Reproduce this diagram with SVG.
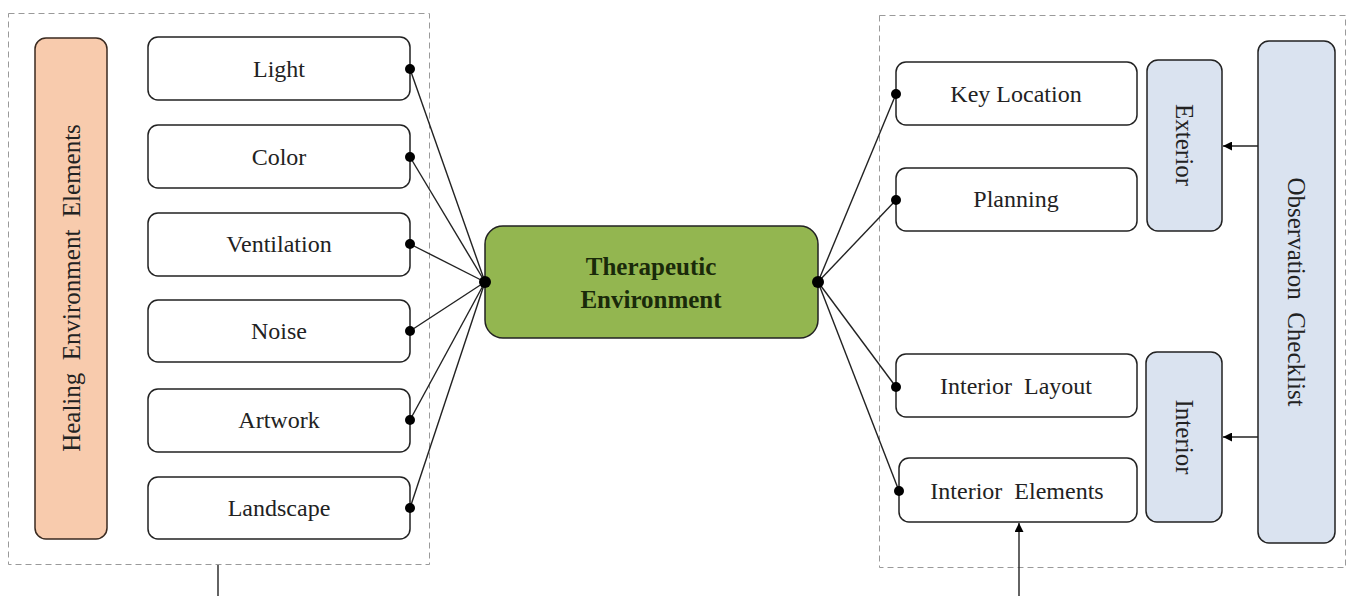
<svg xmlns="http://www.w3.org/2000/svg" width="1348" height="596" viewBox="0 0 1348 596">
<style>
.frame{fill:none;stroke:#9a9a9a;stroke-width:1;stroke-dasharray:6 4}
.box{fill:#fff;stroke:#222;stroke-width:1.5}
.org{fill:#f8cbad;stroke:#3a2a20;stroke-width:1.5}
.blue{fill:#dae3f0;stroke:#222;stroke-width:1.5}
.green{fill:#93b650;stroke:#222;stroke-width:1.5}
.t{font-family:"Liberation Serif","Times New Roman",serif;font-size:24px;fill:#222;text-anchor:middle;dominant-baseline:central}
.tv{font-size:25px}
.tb{font-family:"Liberation Serif","Times New Roman",serif;font-size:25px;font-weight:bold;fill:#1a2a0a;text-anchor:middle}
.ln{stroke:#222;stroke-width:1.4;fill:none}
.dot{fill:#000}
</style>
<defs>
<marker id="ah" viewBox="0 0 10 10" refX="10" refY="5" markerWidth="9" markerHeight="9" markerUnits="userSpaceOnUse" orient="auto">
<path d="M0,0 L10,5 L0,10 z" fill="#000"/>
</marker>
</defs>
<rect class="frame" x="8.5" y="13.5" width="421" height="551"/>
<rect class="frame" x="879.5" y="15.5" width="466" height="552"/>
<g id="healing">
<rect class="org" x="35" y="38" width="72" height="501" rx="11"/>
<text class="t tv" transform="translate(71,288) rotate(-90)" xml:space="preserve">Healing  Environment  Elements</text>
</g>
<g id="light"><rect class="box" x="148" y="37" width="262" height="63" rx="10"/><text class="t" x="279" y="69">Light</text></g>
<g id="color"><rect class="box" x="148" y="125" width="262" height="63" rx="10"/><text class="t" x="279" y="157">Color</text></g>
<g id="ventilation"><rect class="box" x="148" y="213" width="262" height="63" rx="10"/><text class="t" x="279" y="244">Ventilation</text></g>
<g id="noise"><rect class="box" x="148" y="300" width="262" height="62" rx="10"/><text class="t" x="279" y="331">Noise</text></g>
<g id="artwork"><rect class="box" x="148" y="389" width="262" height="63" rx="10"/><text class="t" x="279" y="420">Artwork</text></g>
<g id="landscape"><rect class="box" x="148" y="477" width="262" height="62" rx="10"/><text class="t" x="279" y="508">Landscape</text></g>
<g id="therapeutic">
<rect class="green" x="485" y="226" width="333" height="112" rx="18"/>
<text class="tb" x="651" y="275">Therapeutic</text>
<text class="tb" x="651" y="308">Environment</text>
</g>
<g id="keylocation"><rect class="box" x="896" y="62" width="241" height="63" rx="10"/><text class="t" x="1016" y="94">Key Location</text></g>
<g id="planning"><rect class="box" x="896" y="168" width="241" height="63" rx="10"/><text class="t" x="1016" y="199">Planning</text></g>
<g id="interiorlayout"><rect class="box" x="896" y="354" width="241" height="63" rx="10"/><text class="t" x="1016" y="386" xml:space="preserve">Interior  Layout</text></g>
<g id="interiorelements"><rect class="box" x="899" y="458" width="238" height="64" rx="10"/><text class="t" x="1017" y="491" xml:space="preserve">Interior  Elements</text></g>
<g id="exterior"><rect class="blue" x="1147" y="60" width="75" height="171" rx="11"/><text class="t tv" transform="translate(1184,145) rotate(90)">Exterior</text></g>
<g id="interior"><rect class="blue" x="1146" y="352" width="76" height="170" rx="11"/><text class="t tv" transform="translate(1184,437) rotate(90)">Interior</text></g>
<g id="observation"><rect class="blue" x="1258" y="41" width="77" height="502" rx="11"/><text class="t tv" transform="translate(1296,292) rotate(90)" xml:space="preserve">Observation  Checklist</text></g>
<g id="connectors">
<line class="ln" x1="410" y1="69" x2="485" y2="282"/>
<line class="ln" x1="410" y1="157" x2="485" y2="282"/>
<line class="ln" x1="410" y1="244" x2="485" y2="282"/>
<line class="ln" x1="410" y1="331" x2="485" y2="282"/>
<line class="ln" x1="410" y1="420" x2="485" y2="282"/>
<line class="ln" x1="410" y1="508" x2="485" y2="282"/>
<line class="ln" x1="818" y1="282" x2="896" y2="94"/>
<line class="ln" x1="818" y1="282" x2="896" y2="200"/>
<line class="ln" x1="818" y1="282" x2="896" y2="387"/>
<line class="ln" x1="818" y1="282" x2="899" y2="491"/>
<line class="ln" x1="1258" y1="146" x2="1223" y2="146" marker-end="url(#ah)"/>
<line class="ln" x1="1258" y1="437" x2="1223" y2="437" marker-end="url(#ah)"/>
<line class="ln" x1="218" y1="565" x2="218" y2="596"/>
<line class="ln" x1="1019" y1="596" x2="1019" y2="523" marker-end="url(#ah)"/>
<circle class="dot" cx="410" cy="69" r="5"/>
<circle class="dot" cx="410" cy="157" r="5"/>
<circle class="dot" cx="410" cy="244" r="5"/>
<circle class="dot" cx="410" cy="331" r="5"/>
<circle class="dot" cx="410" cy="420" r="5"/>
<circle class="dot" cx="410" cy="508" r="5"/>
<circle class="dot" cx="485" cy="282" r="6"/>
<circle class="dot" cx="818" cy="282" r="6"/>
<circle class="dot" cx="896" cy="94" r="5"/>
<circle class="dot" cx="896" cy="200" r="5"/>
<circle class="dot" cx="896" cy="387" r="5"/>
<circle class="dot" cx="899" cy="491" r="5"/>
</g>
</svg>
